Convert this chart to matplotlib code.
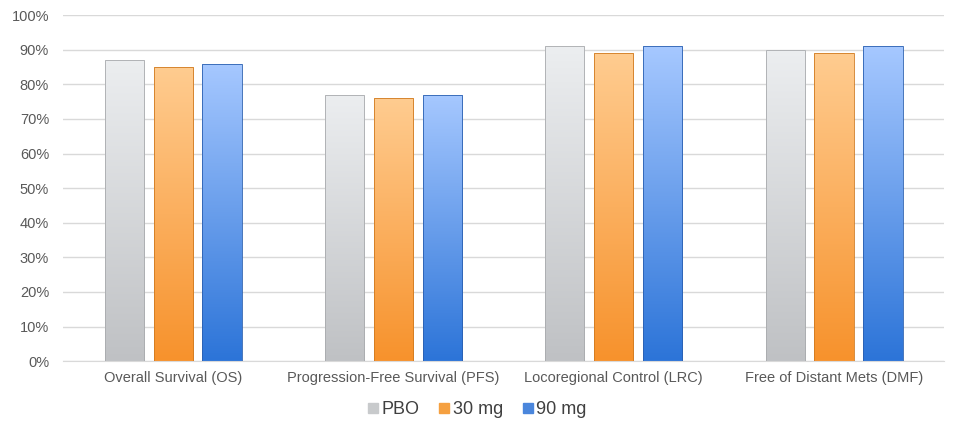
import numpy as np
import matplotlib.pyplot as plt
from matplotlib.colors import LinearSegmentedColormap
from matplotlib.lines import Line2D

categories = ["Overall Survival (OS)", "Progression-Free Survival (PFS)",
              "Locoregional Control (LRC)", "Free of Distant Mets (DMF)"]
series_names = ["PBO", "30 mg", "90 mg"]
pbo = [87, 77, 91, 90]
mg30 = [85, 76, 89, 89]
mg90 = [86, 77, 91, 91]
y_ticks = [0, 10, 20, 30, 40, 50, 60, 70, 80, 90, 100]

# gradient colours (top, bottom) and edge colours per series
grads = [("#eceef0", "#bfc1c4"), ("#ffcc90", "#f7922c"), ("#a6c8ff", "#2c74d8")]
edges = ["#a8aaad", "#d07a20", "#2a5fb0"]
solid = ["#c8cacc", "#f5a040", "#4a86dc"]

plt.rcParams["font.family"] = ["Liberation Sans", "DejaVu Sans"]

fig = plt.figure(figsize=(9.6, 4.32), dpi=100)
ax = fig.add_axes([0.0656, 0.164, 0.918, 0.801])

x = np.arange(len(categories))
width = 0.178
offsets = [-0.222, 0.0, 0.222]
grad = np.linspace(0, 1, 256).reshape(-1, 1)

for vals, off, (ctop, cbot), ec in zip([pbo, mg30, mg90], offsets, grads, edges):
    bars = ax.bar(x + off, vals, width, color="none", edgecolor=ec, linewidth=0.6, zorder=3)
    cmap = LinearSegmentedColormap.from_list("g", [cbot, ctop])
    for b in bars:
        x0, y0 = b.get_x(), b.get_y()
        w, h = b.get_width(), b.get_height()
        im = ax.imshow(grad, extent=[x0, x0 + w, y0, y0 + h], origin="lower",
                       cmap=cmap, aspect="auto", zorder=2)
        im.set_clip_path(b)

ax.set_xlim(-0.5, len(categories) - 0.5)
ax.set_ylim(0, 100)
ax.set_yticks(y_ticks)
ax.set_yticklabels([f"{t}%" for t in y_ticks])
ax.set_xticks(x)
ax.set_xticklabels(categories)
ax.tick_params(axis="both", length=0, labelsize=10.5, colors="#595959")
ax.tick_params(axis="y", pad=10)
ax.tick_params(axis="x", pad=7)
ax.grid(axis="y", color="#d9d9d9", linewidth=1, zorder=0)
ax.set_axisbelow(True)
for s in ["left", "right", "top"]:
    ax.spines[s].set_visible(False)
ax.spines["bottom"].set_color("#d9d9d9")

handles = [Line2D([], [], marker="s", linestyle="none", markersize=6.5,
                  markerfacecolor=c, markeredgecolor=c) for c in solid]
fig.legend(handles, series_names, loc="center", bbox_to_anchor=(0.497, 0.051),
           ncol=3, frameon=False, fontsize=13, handlelength=0.6,
           handletextpad=0.15, columnspacing=1.1, labelcolor="#404040")

fig.savefig("out.png", dpi=100)
